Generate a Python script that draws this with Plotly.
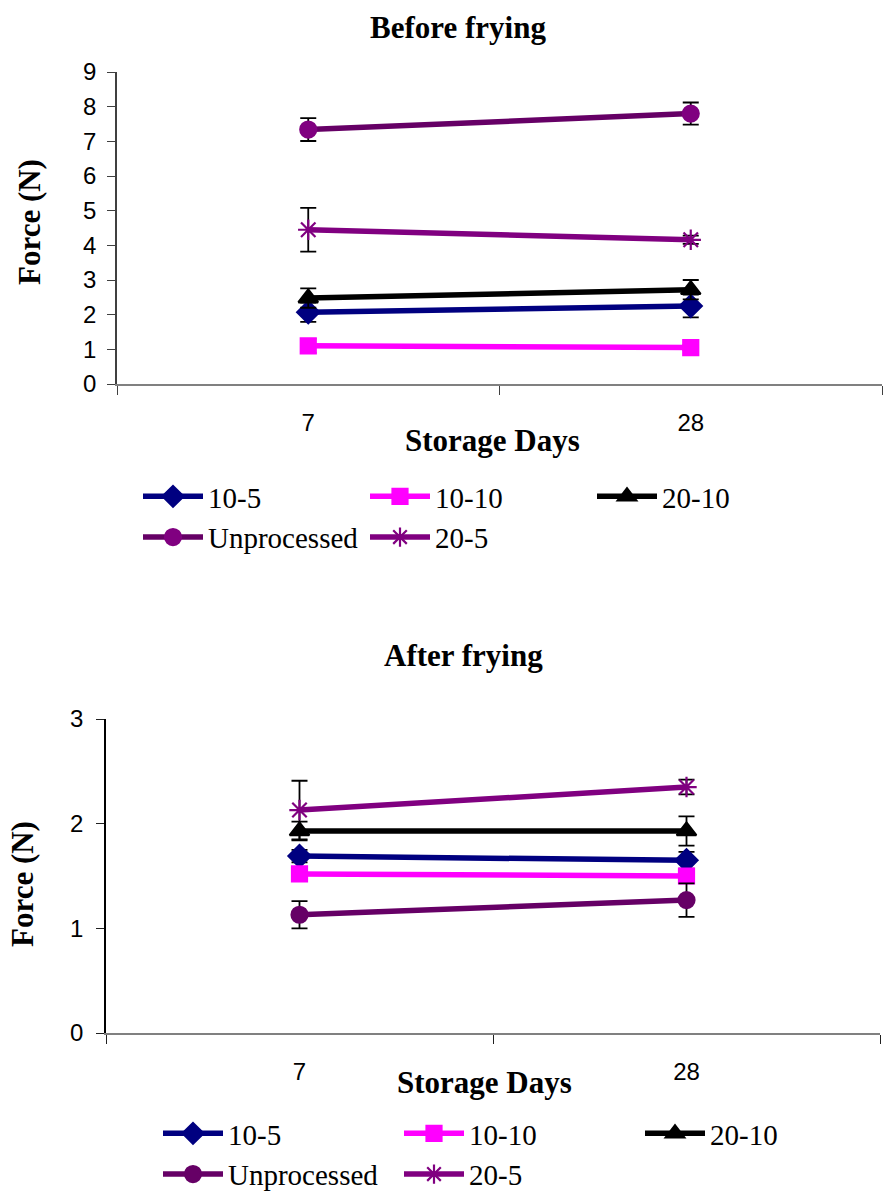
import plotly.graph_objects as go

days = ["7", "28"]
series_names = ["10-5", "10-10", "20-10", "Unprocessed", "20-5"]

# Before frying
before_vals = {
    "10-5": [2.07, 2.25],
    "10-10": [1.10, 1.05],
    "20-10": [2.48, 2.72],
    "Unprocessed": [7.34, 7.80],
    "20-5": [4.45, 4.16],
}
before_err = {
    "10-5": [0.28, 0.33],
    "10-10": [0.20, 0.07],
    "20-10": [0.28, 0.28],
    "Unprocessed": [0.33, 0.32],
    "20-5": [0.63, 0.12],
}
# After frying
after_vals = {
    "10-5": [1.69, 1.65],
    "10-10": [1.52, 1.50],
    "20-10": [1.93, 1.93],
    "Unprocessed": [1.13, 1.27],
    "20-5": [2.13, 2.35],
}
after_err = {
    "10-5": [0.06, 0.08],
    "10-10": [0.03, 0.05],
    "20-10": [0.09, 0.14],
    "Unprocessed": [0.13, 0.16],
    "20-5": [0.28, 0.07],
}

styles = {
    "10-5": dict(line="#000080", marker="#000080", symbol="diamond", size=17),
    "10-10": dict(line="#FF00FF", marker="#FF00FF", symbol="square", size=15),
    "20-10": dict(line="#000000", marker="#000000", symbol="triangle-up", size=17),
    "Unprocessed": dict(line="#660066", marker="#800080", symbol="circle", size=16),
    "20-5": dict(line="#800080", marker="#800080", symbol="asterisk-open", size=17),
}

W, H = 885, 1196
SERIF = "Liberation Serif"
SANS = "Liberation Sans"

fig = go.Figure()

for panel, (vals, errs, xa, ya, leg) in enumerate([
    (before_vals, before_err, "x", "y", "legend"),
    (after_vals, after_err, "x2", "y2", "legend2"),
]):
    for name in series_names:
        st = styles[name]
        mcol = st["marker"] if panel == 0 else st["line"]
        fig.add_trace(go.Scatter(
            x=days, y=vals[name], name=name, xaxis=xa, yaxis=ya, legend=leg,
            mode="lines+markers",
            line=dict(color=st["line"], width=5.5),
            marker=dict(symbol=st["symbol"], size=st["size"], color=mcol,
                        line=dict(color=mcol, width=2.2)),
            error_y=dict(type="data", array=errs[name], visible=True,
                         color="black", thickness=1.8, width=8),
        ))

def px_x(p):
    return p / W

def px_y(p):
    return 1 - p / H

tickfont = dict(family=SANS, size=24, color="black")
legfont = dict(family="Liberation Serif, Times New Roman, serif", size=29, color="black")

fig.update_layout(
    width=W, height=H,
    font=dict(family="Liberation Serif, Times New Roman, serif", color="black"),
    margin=dict(l=0, r=0, t=0, b=0, autoexpand=False),
    paper_bgcolor="white", plot_bgcolor="white",
    xaxis=dict(domain=[px_x(117), px_x(882)], anchor="y", type="category",
               range=[-0.5, 1.5], showline=True, linecolor="#808080", linewidth=2,
               ticks="outside", tickson="boundaries", ticklen=9, tickcolor="#404040",
               showgrid=False, zeroline=False, tickfont=tickfont, ticklabelstandoff=16,
               automargin=False),
    yaxis=dict(domain=[px_y(384), px_y(72)], anchor="x", range=[0, 9], dtick=1,
               showline=True, linecolor="#404040", linewidth=1.5,
               ticks="outside", ticklen=8, tickcolor="#404040",
               showgrid=False, zeroline=False, tickfont=tickfont, ticklabelstandoff=6,
               automargin=False),
    xaxis2=dict(domain=[px_x(106), px_x(880)], anchor="y2", type="category",
                range=[-0.5, 1.5], showline=True, linecolor="#808080", linewidth=2,
                ticks="outside", tickson="boundaries", ticklen=9, tickcolor="#202020",
                showgrid=False, zeroline=False, tickfont=tickfont, ticklabelstandoff=16,
                automargin=False),
    yaxis2=dict(domain=[px_y(1033), px_y(719)], anchor="x2", range=[0, 3], dtick=1,
                showline=True, linecolor="black", linewidth=1.5,
                ticks="outside", ticklen=8, tickcolor="#202020",
                showgrid=False, zeroline=False, tickfont=tickfont, ticklabelstandoff=8,
                automargin=False),
    legend=dict(orientation="h", x=px_x(138), y=px_y(471), xanchor="left", yanchor="top",
                entrywidth=152, entrywidthmode="pixels", itemwidth=60,
                font=legfont, bgcolor="rgba(0,0,0,0)", traceorder="normal"),
    legend2=dict(orientation="h", x=px_x(158), y=px_y(1108), xanchor="left", yanchor="top",
                 entrywidth=166, entrywidthmode="pixels", itemwidth=60,
                 font=legfont, bgcolor="rgba(0,0,0,0)", traceorder="normal"),
    showlegend=True,
)

annotations = [
    dict(text="<b>Before frying</b>", x=px_x(458), y=px_y(28)),
    dict(text="<b>After frying</b>", x=px_x(463), y=px_y(655)),
    dict(text="<b>Storage Days</b>", x=px_x(493), y=px_y(440)),
    dict(text="<b>Storage Days</b>", x=px_x(485), y=px_y(1082)),
    dict(text="<b>Force (N)</b>", x=px_x(30), y=px_y(222), textangle=-90),
    dict(text="<b>Force (N)</b>", x=px_x(23), y=px_y(884), textangle=-90),
]
for a in annotations:
    fig.add_annotation(xref="paper", yref="paper", showarrow=False,
                       xanchor="center", yanchor="middle",
                       font=dict(family=SERIF, size=31, color="black"), **a)

fig.write_html("out.html")
